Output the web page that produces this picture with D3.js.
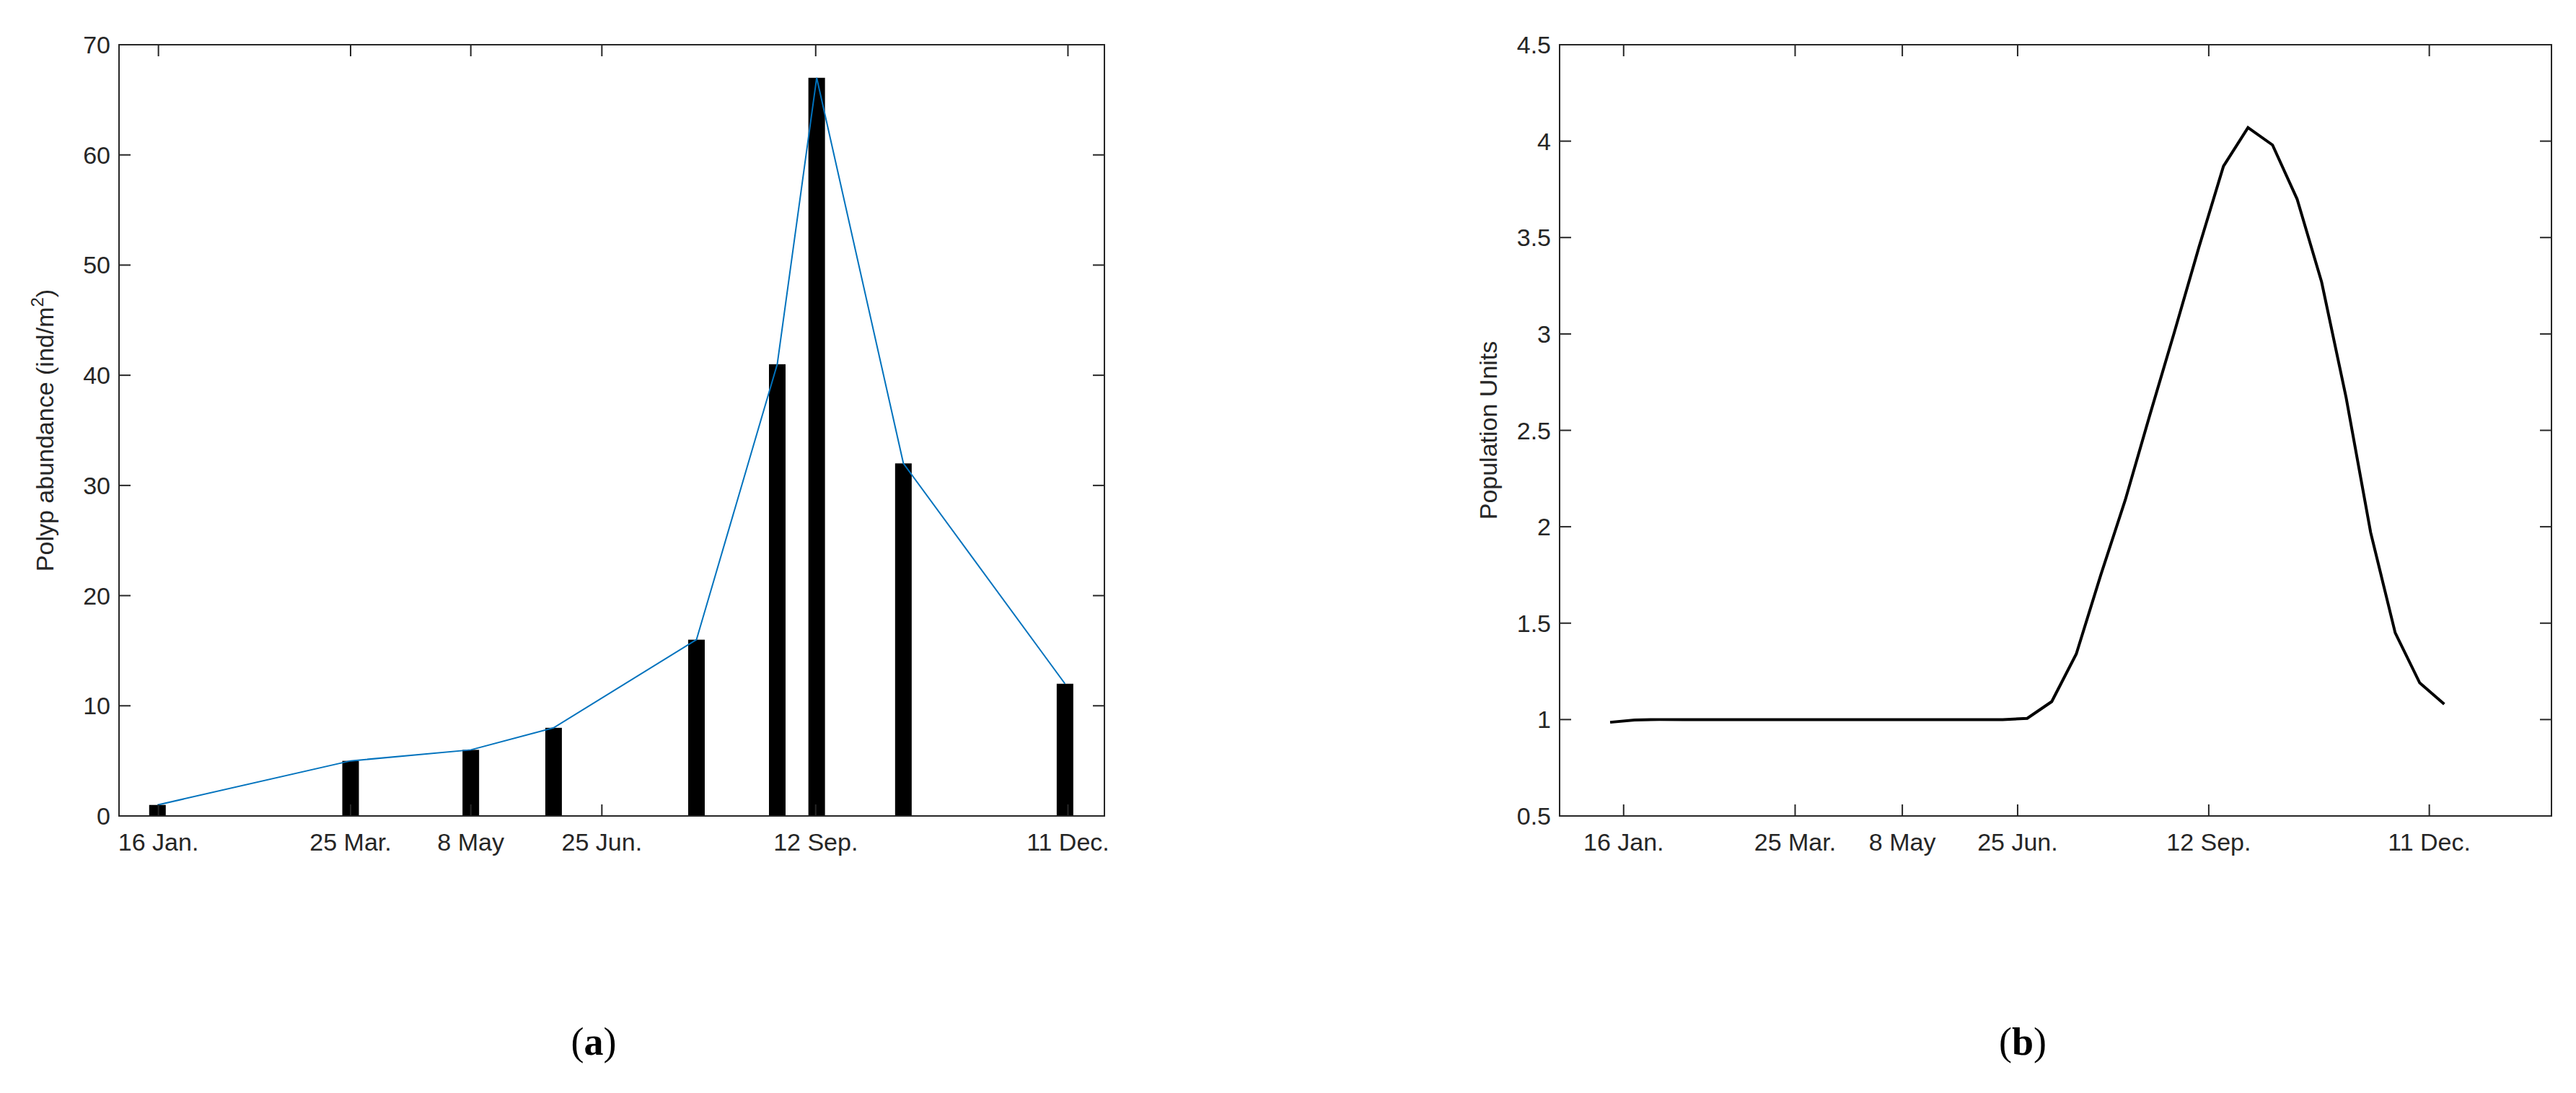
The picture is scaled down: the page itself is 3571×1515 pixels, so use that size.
<!DOCTYPE html>
<html>
<head>
<meta charset="utf-8">
<script src="https://cdn.jsdelivr.net/npm/d3@7"></script>
<style>
	body { margin: 0; background: #fff; }
	text { font-family: "Liberation Sans", Arial, sans-serif; fill: #262626; }
</style>
</head>
<body>
<svg id="chart" width="3571" height="1515"></svg>
<script>
// ---- panel (a) data: x in relative axis units (0-100) ----
var tickAPos = [4.0, 23.5, 35.7, 49.0, 70.7, 96.3];
var tickALabels = ['16 Jan.', '25 Mar.', '8 May', '25 Jun.', '12 Sep.', '11 Dec.'];
var barsX = [3.9, 23.5, 35.7, 44.1, 58.6, 66.8, 70.8, 79.6, 96.0];
var barsY = [1, 5, 6, 8, 16, 41, 67, 32, 12];
var yTicksA = [0, 10, 20, 30, 40, 50, 60, 70];

// ---- panel (b) data: x in week index ----
var tickBPos = [0.55, 7.54, 11.91, 16.61, 24.4, 33.39];
var tickBLabels = ['16 Jan.', '25 Mar.', '8 May', '25 Jun.', '12 Sep.', '11 Dec.'];
var popValues = [0.986, 0.998, 1, 1, 1, 1, 1, 1, 1, 1, 1, 1, 1, 1, 1, 1, 1,
	1.006, 1.093, 1.34, 1.75, 2.14, 2.58, 3.01, 3.45, 3.87, 4.07, 3.98, 3.70,
	3.27, 2.67, 1.97, 1.45, 1.19, 1.08];
var yTicksB = [0.5, 1, 1.5, 2, 2.5, 3, 3.5, 4, 4.5];

var svg = d3.select('#chart');
var plotTop = 62, plotBottom = 1131, tickLen = 16;

function frame(g, x0, x1) {
	g.append('rect').attr('x', x0).attr('y', plotTop).attr('width', x1 - x0).attr('height', plotBottom - plotTop)
		.attr('fill', 'none').attr('stroke', '#262626').attr('stroke-width', 2);
}

function drawTicks(g, x, y, xt, xl, yt, fmt) {
	var x0 = x.range()[0], x1 = x.range()[1];
	xt.forEach(function(t, i) {
		g.append('line').attr('x1', x(t)).attr('x2', x(t)).attr('y1', plotBottom).attr('y2', plotBottom - tickLen).attr('stroke', '#262626').attr('stroke-width', 2);
		g.append('line').attr('x1', x(t)).attr('x2', x(t)).attr('y1', plotTop).attr('y2', plotTop + tickLen).attr('stroke', '#262626').attr('stroke-width', 2);
		g.append('text').attr('x', x(t)).attr('y', plotBottom + 48).attr('text-anchor', 'middle').attr('font-size', 34).text(xl[i]);
	});
	yt.forEach(function(t) {
		g.append('line').attr('x1', x0).attr('x2', x0 + tickLen).attr('y1', y(t)).attr('y2', y(t)).attr('stroke', '#262626').attr('stroke-width', 2);
		g.append('line').attr('x1', x1).attr('x2', x1 - tickLen).attr('y1', y(t)).attr('y2', y(t)).attr('stroke', '#262626').attr('stroke-width', 2);
		g.append('text').attr('x', x0 - 12).attr('y', y(t) + 12).attr('text-anchor', 'end').attr('font-size', 34).text(fmt(t));
	});
}

// ---------------- panel (a) ----------------
var gA = svg.append('g');
var xA = d3.scaleLinear().domain([0, 100]).range([165, 1531]);
var yA = d3.scaleLinear().domain([0, 70]).range([plotBottom, plotTop]);
var barW = 23;

gA.selectAll('rect.bar').data(barsY).enter().append('rect')
	.attr('class', 'bar')
	.attr('x', function(d, i) { return xA(barsX[i]) - barW / 2; })
	.attr('y', function(d) { return yA(d); })
	.attr('width', barW)
	.attr('height', function(d) { return plotBottom - yA(d); })
	.attr('fill', '#000');

gA.append('path')
	.datum(barsY)
	.attr('d', d3.line().x(function(d, i) { return xA(barsX[i]); }).y(function(d) { return yA(d); }))
	.attr('fill', 'none').attr('stroke', '#0072BD').attr('stroke-width', 2);

frame(gA, 165, 1531);
drawTicks(gA, xA, yA, tickAPos, tickALabels, yTicksA, function(t) { return t; });

var labA = gA.append('text').attr('transform', 'translate(74,' + ((plotTop + plotBottom) / 2) + ') rotate(-90)')
	.attr('text-anchor', 'middle').attr('font-size', 34);
labA.append('tspan').text('Polyp abundance (ind/m');
labA.append('tspan').attr('dy', -14).attr('font-size', 24).text('2');
labA.append('tspan').attr('dy', 14).text(')');

// ---------------- panel (b) ----------------
var gB = svg.append('g');
var xB = d3.scaleLinear().domain([-2.06, 38.37]).range([2162, 3537]);
var yB = d3.scaleLinear().domain([0.5, 4.5]).range([plotBottom, plotTop]);

gB.append('path')
	.datum(popValues)
	.attr('d', d3.line().x(function(d, i) { return xB(i); }).y(function(d) { return yB(d); }))
	.attr('fill', 'none').attr('stroke', '#000').attr('stroke-width', 4);

frame(gB, 2162, 3537);
drawTicks(gB, xB, yB, tickBPos, tickBLabels, yTicksB, function(t) { return t; });

gB.append('text').attr('transform', 'translate(2075,' + ((plotTop + plotBottom) / 2) + ') rotate(-90)')
	.attr('text-anchor', 'middle').attr('font-size', 34).text('Population Units');

// ---------------- captions ----------------
[['a', 823], ['b', 2804]].forEach(function(c) {
	var t = svg.append('text').attr('x', c[1]).attr('y', 1462).attr('text-anchor', 'middle')
		.attr('font-size', 54).style('font-family', '"Liberation Serif", "Times New Roman", serif').style('fill', '#000');
	t.append('tspan').text('(');
	t.append('tspan').attr('font-weight', 'bold').text(c[0]);
	t.append('tspan').text(')');
});
</script>
</body>
</html>
